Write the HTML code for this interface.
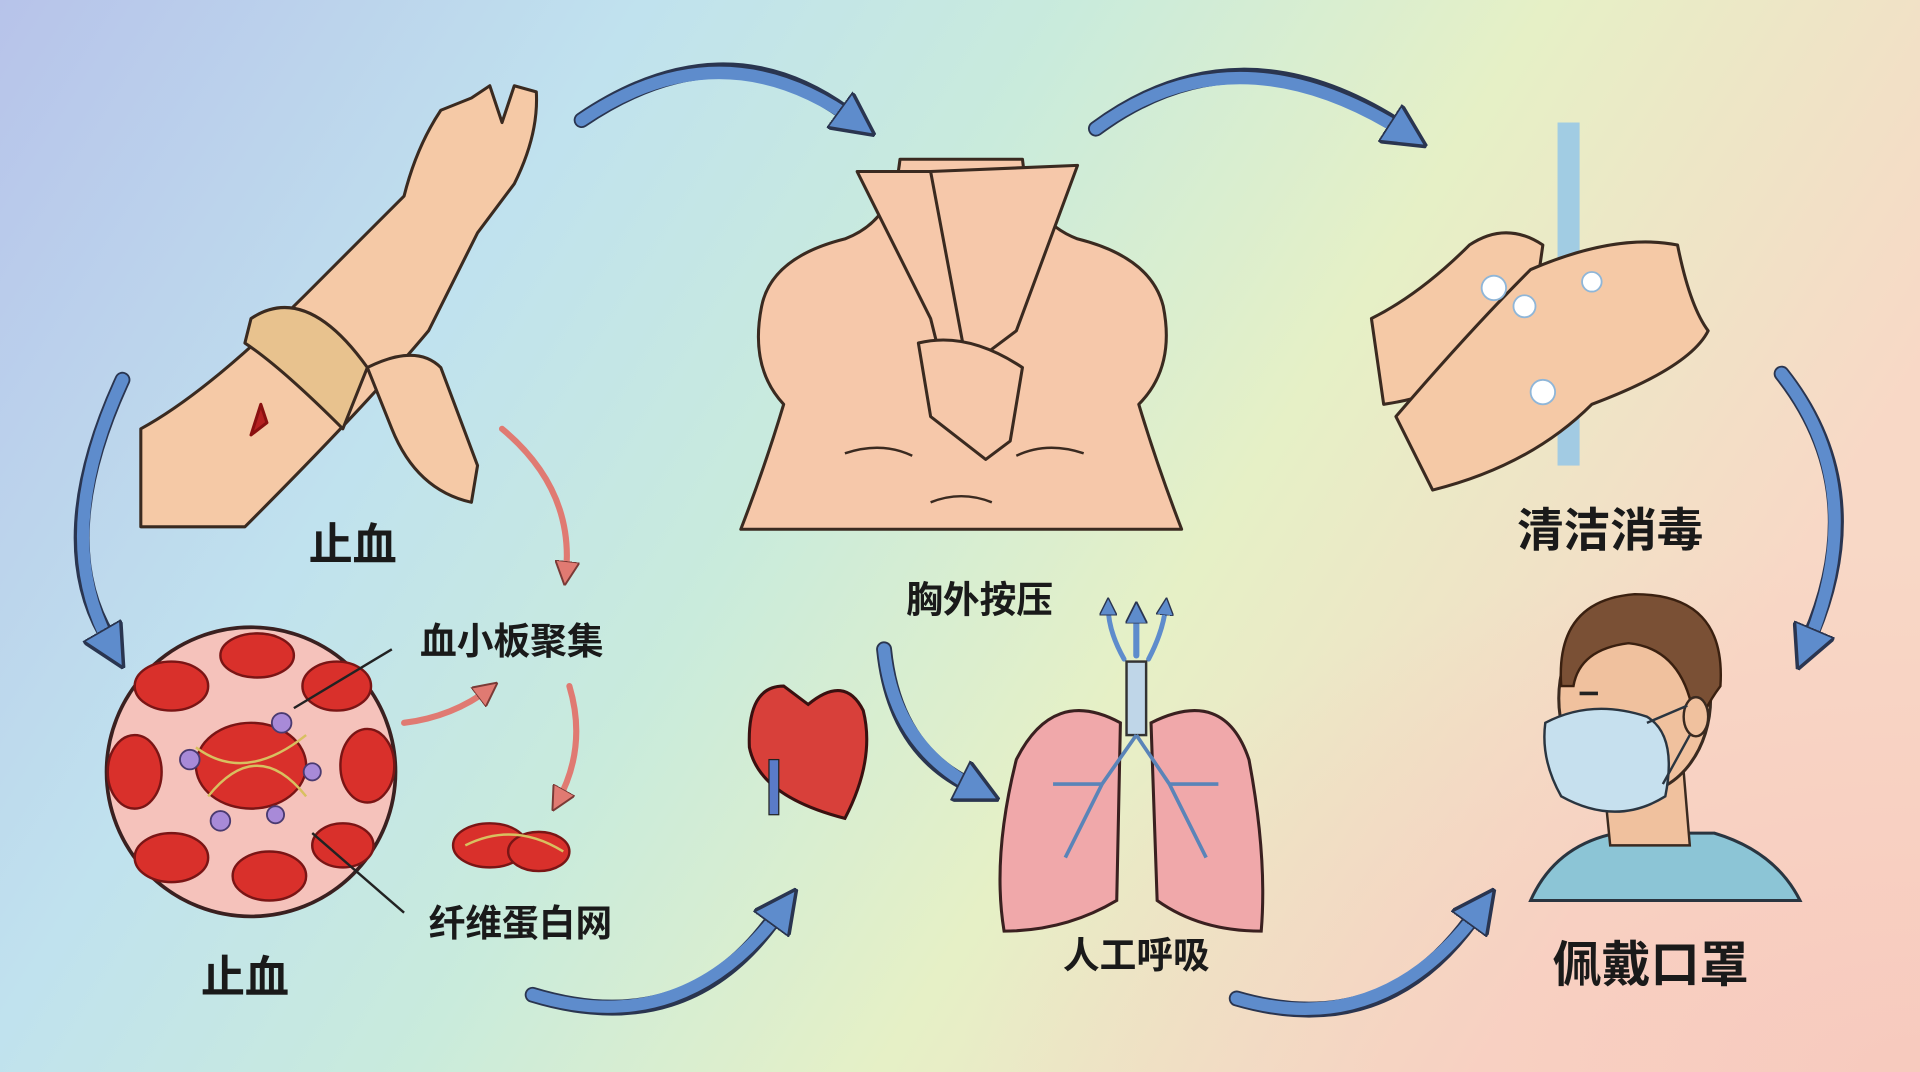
<!DOCTYPE html>
<html><head><meta charset="utf-8">
<style>
html,body{margin:0;padding:0;width:1920px;height:1072px;overflow:hidden;}
svg{display:block}
text{font-family:"Liberation Sans","Noto Sans CJK SC",sans-serif;fill:#1a1a1a;text-anchor:middle;font-weight:bold;}
</style></head><body>
<svg width="1920" height="1072" viewBox="0 0 1568 875" preserveAspectRatio="none" xmlns="http://www.w3.org/2000/svg">
<defs>
<linearGradient id="bg" x1="0" y1="0" x2="1" y2="0.35">
<stop offset="0" stop-color="#b7c3ea"/>
<stop offset="0.3" stop-color="#c0e2ee"/>
<stop offset="0.5" stop-color="#c9ebdc"/>
<stop offset="0.72" stop-color="#e6f0c6"/>
<stop offset="1" stop-color="#f8d8c6"/>
</linearGradient>
<radialGradient id="bg2" cx="1" cy="1" r="0.5">
<stop offset="0" stop-color="#f7c6bc" stop-opacity="0.8"/>
<stop offset="1" stop-color="#f7c6bc" stop-opacity="0"/>
</radialGradient>
<marker id="bh" viewBox="0 0 10 10" refX="5" refY="5" markerWidth="3.6" markerHeight="3.6" orient="auto">
<path d="M0,0 L10,5 L0,10 Z" fill="#5e8ccc" stroke="#2a3550" stroke-width="0.8"/>
</marker>
<marker id="rh" viewBox="0 0 10 10" refX="6" refY="5" markerWidth="4" markerHeight="4" orient="auto">
<path d="M0,0 L10,5 L0,10 Z" fill="#e07a72" stroke="#7a3a36" stroke-width="0.8"/>
</marker>
</defs>
<rect width="1568" height="875" fill="url(#bg)"/>
<rect width="1568" height="875" fill="url(#bg2)"/>

<!-- blue arrows -->
<g fill="none" stroke="#2a3550" stroke-width="13" stroke-linecap="round">
<path d="M475,98 Q590,20 690,92"/>
<path d="M895,105 Q1010,20 1140,102"/>
<path d="M100,310 Q40,440 88,520"/>
<path d="M1455,305 Q1530,400 1478,520"/>
<path d="M435,812 Q560,850 632,750"/>
<path d="M1010,815 Q1130,850 1202,750"/>
<path d="M722,530 Q730,610 790,640"/>
</g>
<g fill="none" stroke="#5e8ccc" stroke-width="10" stroke-linecap="round">
<path d="M475,98 Q590,20 700,100" marker-end="url(#bh)"/>
<path d="M895,105 Q1010,20 1150,110" marker-end="url(#bh)"/>
<path d="M100,310 Q40,440 92,530" marker-end="url(#bh)"/>
<path d="M1455,305 Q1530,400 1475,530" marker-end="url(#bh)"/>
<path d="M435,812 Q560,850 640,740" marker-end="url(#bh)"/>
<path d="M1010,815 Q1130,850 1210,740" marker-end="url(#bh)"/>
<path d="M722,530 Q730,610 800,645" marker-end="url(#bh)"/>
<path d="M928,535 L928,500" stroke-width="5" marker-end="url(#bh)"/>
<path d="M918,538 Q905,515 905,495" stroke-width="4" marker-end="url(#bh)"/>
<path d="M938,538 Q950,515 952,495" stroke-width="4" marker-end="url(#bh)"/>
</g>
<!-- red arrows -->
<g fill="none" stroke="#e07a72" stroke-width="5" stroke-linecap="round">
<path d="M410,350 Q470,400 462,470" marker-end="url(#rh)"/>
<path d="M330,590 Q370,585 400,562" marker-end="url(#rh)"/>
<path d="M465,560 Q480,610 455,655" marker-end="url(#rh)"/>
</g>

<!-- arm top left -->
<g stroke="#3a2a20" stroke-width="2.5" fill="#f5c9a6" stroke-linejoin="round">
<path d="M115,350 L115,430 L200,430 Q300,330 350,270 L390,190 L420,150 Q440,110 438,75 L420,70 L410,100 L400,70 L385,80 L360,90 Q340,120 330,160 L250,240 Q170,320 115,350 Z"/>
<path d="M300,300 Q340,280 360,300 L390,380 L385,410 Q340,400 320,350 Z"/>
<path d="M205,260 Q250,230 300,300 L280,350 Q230,300 200,280 Z" fill="#e8c28e"/>
<path d="M213,330 L205,355 L218,345 Z" fill="#b52020" stroke="#8a1010"/>
</g>
<!-- blood circle -->
<circle cx="205" cy="630" r="118" fill="#f5c2bb" stroke="#3a2020" stroke-width="3"/>
<g fill="#d9302b" stroke="#7a1515" stroke-width="2">
<ellipse cx="140" cy="560" rx="30" ry="20"/><ellipse cx="210" cy="535" rx="30" ry="18"/><ellipse cx="275" cy="560" rx="28" ry="20"/>
<ellipse cx="110" cy="630" rx="22" ry="30"/><ellipse cx="300" cy="625" rx="22" ry="30"/><ellipse cx="140" cy="700" rx="30" ry="20"/>
<ellipse cx="220" cy="715" rx="30" ry="20"/><ellipse cx="280" cy="690" rx="25" ry="18"/><ellipse cx="205" cy="625" rx="45" ry="35"/>
<ellipse cx="400" cy="690" rx="30" ry="18"/><ellipse cx="440" cy="695" rx="25" ry="16"/>
</g>
<g fill="#a88ad8" stroke="#4a3a70" stroke-width="1.5">
<circle cx="155" cy="620" r="8"/><circle cx="230" cy="590" r="8"/><circle cx="255" cy="630" r="7"/><circle cx="180" cy="670" r="8"/><circle cx="225" cy="665" r="7"/>
</g>
<g fill="none" stroke="#d8c060" stroke-width="2"><path d="M160,610 Q200,640 250,600 M170,650 Q210,600 250,650 M380,690 Q420,670 460,695"/></g>
<line x1="240" y1="578" x2="320" y2="530" stroke="#222" stroke-width="2"/>
<line x1="255" y1="680" x2="330" y2="745" stroke="#222" stroke-width="2"/>

<!-- torso -->
<g stroke="#3a2a20" stroke-width="2.5" fill="#f6c8aa" stroke-linejoin="round">
<path d="M735,130 Q730,180 690,195 Q630,210 622,250 Q612,300 640,330 Q625,380 605,432 L965,432 Q945,380 930,330 Q960,300 950,250 Q940,210 880,195 Q840,180 835,130 Z"/>
<path d="M700,140 L760,260 L770,300 L800,300 L770,140 Z"/>
<path d="M880,135 L830,270 L790,300 L760,140 Z"/>
<path d="M750,280 Q790,270 835,300 L825,360 L805,375 L760,340 Z"/>
</g>
<g fill="none" stroke="#3a2a20" stroke-width="2"><path d="M690,370 Q720,360 745,372 M830,372 Q855,360 885,370 M760,410 Q785,400 810,410"/></g>
<!-- heart -->
<path d="M640,560 Q610,560 612,610 Q620,650 690,668 Q715,620 705,580 Q690,550 660,575 Z" fill="#d8403a" stroke="#3a1010" stroke-width="2.5"/>
<rect x="628" y="620" width="8" height="45" fill="#5a7bc8" stroke="#222"/>
<!-- lungs -->
<rect x="920" y="540" width="16" height="60" fill="#bfd6e8" stroke="#333" stroke-width="2"/>
<path d="M915,590 Q860,560 830,620 Q810,700 820,760 Q870,760 912,735 Z" fill="#f0a8aa" stroke="#3a2020" stroke-width="2.5"/>
<path d="M940,590 Q1000,560 1020,620 Q1035,700 1030,760 Q980,760 945,735 Z" fill="#f0a8aa" stroke="#3a2020" stroke-width="2.5"/>
<g fill="none" stroke="#5a84b8" stroke-width="3"><path d="M928,600 L900,640 L870,700 M900,640 L860,640 M928,600 L955,640 L985,700 M955,640 L995,640"/></g>
<!-- washing hands -->
<rect x="1272" y="100" width="18" height="280" fill="#8fc4ea" opacity="0.8"/>
<g stroke="#3a2a20" stroke-width="2.5" fill="#f5c9a6" stroke-linejoin="round">
<path d="M1120,260 L1130,330 Q1200,320 1250,270 L1260,200 Q1230,180 1200,200 Q1160,240 1120,260 Z"/>
<path d="M1140,340 L1170,400 Q1250,380 1300,330 Q1380,300 1395,270 Q1380,250 1370,200 Q1320,190 1250,220 Q1200,270 1140,340 Z"/>
</g>
<g fill="#fff" stroke="#8fb6d8" stroke-width="1.5"><circle cx="1220" cy="235" r="10"/><circle cx="1245" cy="250" r="9"/><circle cx="1260" cy="320" r="10"/><circle cx="1300" cy="230" r="8"/></g>
<!-- man -->
<path d="M1250,735 Q1270,690 1320,680 L1400,680 Q1450,695 1470,735 Z" fill="#8cc5d6" stroke="#2a3540" stroke-width="2.5"/>
<path d="M1310,640 L1315,690 L1380,690 L1375,630 Z" fill="#f0c19e" stroke="#3a2a20" stroke-width="2"/>
<ellipse cx="1335" cy="570" rx="62" ry="78" fill="#f0c19e" stroke="#3a2a20" stroke-width="2.5"/>
<path d="M1275,560 Q1270,490 1335,485 Q1410,485 1405,560 Q1390,580 1385,600 Q1380,530 1330,525 Q1290,530 1285,560 Z" fill="#7a5035" stroke="#3a2010" stroke-width="2"/>
<ellipse cx="1385" cy="585" rx="10" ry="16" fill="#f0c19e" stroke="#3a2a20" stroke-width="2"/>
<path d="M1290,566 L1305,566" stroke="#222" stroke-width="3"/>
<path d="M1262,590 Q1300,570 1345,585 Q1370,600 1360,650 Q1320,675 1275,650 Q1258,620 1262,590 Z" fill="#c6e0ee" stroke="#2a3540" stroke-width="2"/>
<path d="M1345,590 L1378,576 M1358,640 L1380,600" stroke="#2a3540" stroke-width="2"/>

<!-- labels -->
<text x="288" y="457" font-size="36">止血</text>
<text x="200" y="810" font-size="36">止血</text>
<text x="418" y="534" font-size="30">血小板聚集</text>
<text x="425" y="764" font-size="30">纤维蛋白网</text>
<text x="800" y="500" font-size="30">胸外按压</text>
<text x="928" y="790" font-size="30">人工呼吸</text>
<text x="1315" y="446" font-size="38">清洁消毒</text>
<text x="1348" y="801" font-size="40">佩戴口罩</text>
</svg>
</body></html>
